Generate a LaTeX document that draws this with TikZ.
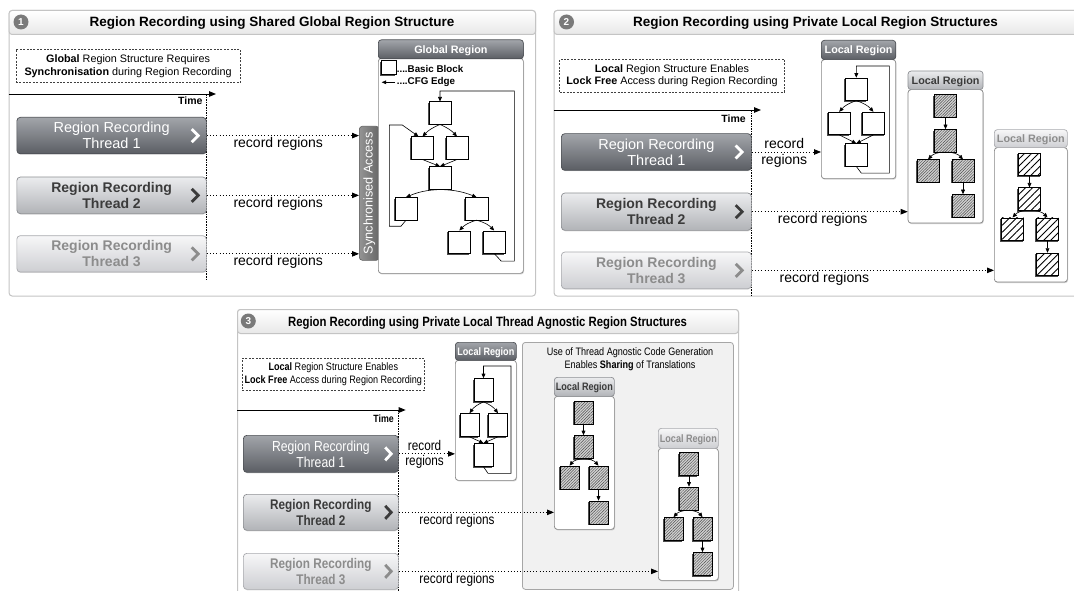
\documentclass[tikz,border=0pt]{standalone}
\usepackage{fontspec}
\setmainfont{Liberation Sans}
\usepackage{graphicx}
\usetikzlibrary{arrows.meta,shadows,patterns.meta}

\definecolor{pborder}{HTML}{C4C4C4}
\definecolor{dkTop}{HTML}{A2A5AA}
\definecolor{dkBot}{HTML}{5B5E64}
\definecolor{dkLine}{HTML}{4C4F54}
\definecolor{mdTop}{HTML}{EBECEE}
\definecolor{mdBot}{HTML}{B1B3B7}
\definecolor{mdLine}{HTML}{8D8F93}
\definecolor{ltTop}{HTML}{F7F7F8}
\definecolor{ltBot}{HTML}{CDCED2}
\definecolor{ltLine}{HTML}{A9AAAE}
\definecolor{mdText}{HTML}{3B3B3B}
\definecolor{ltText}{HTML}{8C8C8C}
\definecolor{shareBg}{HTML}{F1F1F1}

\newcommand\fs[2]{\fontsize{#1}{#2}\selectfont}
% horizontally condensed text for the third panel
\newcommand\cz[1]{\scalebox{0.84}[1]{#1}}

\begin{document}
\begin{tikzpicture}[x=1pt,y=-1pt,
  sz/.style 2 args={minimum width=#1pt,minimum height=#2pt},
  nw/.style={anchor=north west},
  panel/.style={nw,draw=pborder,fill=white,line width=1pt,rounded corners=3pt,inner sep=0pt},
  tbar/.style={nw,draw=pborder,line width=1pt,top color=white,bottom color=black!9,rounded corners=3pt,inner sep=0pt},
  ttl/.style={anchor=base,inner sep=0pt,font=\fs{13.5}{16}\bfseries},
  num/.style={circle,fill=black!52,text=white,minimum size=15pt,inner sep=0pt,font=\fs{10}{12}\bfseries},
  note/.style={nw,draw=black!75,line width=0.6pt,dash pattern=on 2pt off 1.4pt,align=center,inner sep=0pt,font=\fs{10.8}{12.7}},
  thr/.style={nw,rounded corners=3.5pt,line width=0.7pt,inner sep=0pt,align=center,
     drop shadow={opacity=0.25,shadow xshift=0.4pt,shadow yshift=-0.9pt}},
  thrA/.style={thr,top color=dkTop,bottom color=dkBot,draw=dkLine,text=white,font=\fs{14.5}{16}},
  thrB/.style={thr,top color=mdTop,bottom color=mdBot,draw=mdLine,text=mdText,font=\fs{14}{16}\bfseries},
  thrC/.style={thr,top color=ltTop,bottom color=ltBot,draw=ltLine,text=ltText,font=\fs{14}{16}\bfseries},
  chev/.style={line width=2.8pt,line join=miter,line cap=butt},
  axis/.style={line width=0.9pt,-{Triangle[length=7pt,width=5.5pt]}},
  tline/.style={line width=0.7pt,dash pattern=on 1.6pt off 1pt},
  tlbl/.style={anchor=base east,inner sep=0pt,font=\fs{10.5}{12}\bfseries},
  rec/.style={line width=0.8pt,dash pattern=on 1.1pt off 2.1pt,-{Triangle[length=7pt,width=5.5pt]}},
  lbl/.style={inner sep=1.5pt,font=\fs{14}{16}},
  rbody/.style={nw,draw=black!48,fill=white,line width=0.7pt,rounded corners=3pt,inner sep=0pt,
     drop shadow={opacity=0.35,shadow xshift=0.7pt,shadow yshift=-1.1pt}},
  rh/.style={nw,rounded corners=3pt,line width=0.7pt,inner sep=0pt,text height=7.9pt,text depth=0pt,font=\fs{10.8}{12}\bfseries},
  rhA/.style={rh,top color=dkTop,bottom color=dkBot,draw=dkLine,text=white},
  rhB/.style={rh,top color=mdTop,bottom color=mdBot,draw=mdLine,text=mdText},
  rhC/.style={rh,top color=ltTop,bottom color=ltBot,draw=ltLine,text=ltText},
  blk/.style={draw=black,line width=0.6pt,inner sep=0pt,minimum width=22.4pt,minimum height=22.4pt,
     general shadow={fill=black!70,shadow xshift=-1.2pt,shadow yshift=-1.3pt}},
  wb/.style={blk,fill=white},
  fh/.style={blk,preaction={fill=black!18},pattern={Lines[angle=45,distance=2pt,line width=0.45pt]},pattern color=black!70},
  wh/.style={blk,preaction={fill=white},pattern={Lines[angle=45,distance=5pt,line width=0.9pt]},pattern color=black},
  nar/.style={minimum width=19pt,minimum height=23pt},
  cfg/.style={line width=0.6pt,-{Triangle[length=4.5pt,width=3.8pt]}},
  lgd/.style={anchor=base west,inner sep=0pt,font=\fs{9.8}{12}\bfseries},
  sync/.style={nw,rounded corners=3pt,left color=black!42,right color=black!60,draw=black!62,line width=0.6pt,inner sep=0pt},
  share/.style={nw,draw=black!35,fill=shareBg,line width=0.8pt,rounded corners=3pt,inner sep=0pt},
]
\useasboundingbox (0,0) rectangle (1074,591);

% =============== Panel 1: shared global region ===============
\node[panel,sz={526.4}{285.5}] (pan1) at (8.6,10) {};
\node[tbar,sz={526.4}{24}] (tb1) at (8.6,10) {};
\node[num] (n1) at (21,22) {1};
\node[ttl] (tt1) at (272,26.5) {Region Recording using Shared Global Region Structure};
\node[note,sz={224.5}{33}] (nt1) at (15.5,49.3)
  {\textbf{Global} Region Structure Requires\\\textbf{Synchronisation} during Region Recording};

\coordinate (ax1a) at (8.6,94);
\coordinate (ax1b) at (216,94);
\draw[axis] (ax1a) -- (ax1b);
\coordinate (tv1a) at (206,94);
\coordinate (tv1b) at (206,279);
\draw[tline] (tv1a) -- (tv1b);
\node[tlbl] (tm1) at (202.7,105) {Time};

\node[thrA,sz={189.5}{36.5}] (a1) at (16.5,117) {Region Recording\\Thread 1};
\node[thrB,sz={189.5}{36.6}] (a2) at (16.5,176.7) {Region Recording\\Thread 2};
\node[thrC,sz={189.5}{36.4}] (a3) at (16.5,235.3) {Region Recording\\Thread 3};
\draw[chev,white] ([xshift=-15pt,yshift=6.5pt]a1.east) -- ([xshift=-8.5pt]a1.east) -- ([xshift=-15pt,yshift=-6.5pt]a1.east);
\draw[chev,mdText] ([xshift=-15pt,yshift=6.5pt]a2.east) -- ([xshift=-8.5pt]a2.east) -- ([xshift=-15pt,yshift=-6.5pt]a2.east);
\draw[chev,ltText] ([xshift=-15pt,yshift=6.5pt]a3.east) -- ([xshift=-8.5pt]a3.east) -- ([xshift=-15pt,yshift=-6.5pt]a3.east);

\node[sync,sz={20}{134}] (sy) at (359,126) {};
\node[rotate=90,text=white,inner sep=0pt,font=\fs{12.7}{14}] (syt) at (sy.center) {Synchronised Access};

\draw[rec] (a1.east) -- (a1.east -| sy.west) node[lbl,pos=.47,anchor=north] {record regions};
\draw[rec] (a2.east) -- (a2.east -| sy.west) node[lbl,pos=.47,anchor=north] {record regions};
\draw[rec] (a3.east) -- (a3.east -| sy.west) node[lbl,pos=.47,anchor=north] {record regions};

% global region box
\node[rbody,sz={145}{215}] (gr) at (378,58) {};
\node[rhA,sz={145}{19}] (grh) at (378,39.5) {Global Region};
\node[wb,sz={14.3}{13.6}] (lg1) at (388.8,67.5) {};
\node[lgd] (lt1) at (396.6,72.6) {....Basic Block};
\node[lgd] (lt2) at (396.6,85) {....CFG Edge};
\coordinate (lga) at (395,82.3);
\coordinate (lgb) at (381.7,82.3);
\draw[cfg] (lga) -- (lgb);

\node[wb] (g0) at (440,113) {};
\node[wb] (g1) at (422.5,148) {};
\node[wb] (g2) at (457,148) {};
\node[wb] (g3) at (440,178) {};
\node[wb] (g4) at (406,208.7) {};
\node[wb] (g5) at (476.6,208.7) {};
\node[wb] (g6) at (459.3,242) {};
\node[wb] (g7) at (494.2,242) {};
\draw[cfg] (g0.south) to[bend right=12] (g1.north);
\draw[cfg] (g0.south) to[bend left=12] (g2.north);
\draw[cfg] (g1.south) -- (g3.north);
\draw[cfg] (g2.south) -- (g3.north);
\draw[cfg] (g3.south) to[bend right=10] (g4.north);
\draw[cfg] (g3.south) to[bend left=10] (g5.north);
\draw[cfg] (g5.south) to[bend right=15] (g6.north);
\draw[cfg] (g5.south) to[bend left=15] (g7.north);
\coordinate (gk1) at (514.3,91);
\draw[cfg] (g7.south) -- ++(7,7.6) -| (gk1) -| (g0.north);
\coordinate (gk2) at (389.3,125);
\draw[cfg] (g4.south) -- ++(-5,6) -| (gk2) -- ++(13,0) -- ([xshift=-4pt]g1.north);

% =============== Panel 2: private local regions ===============
\node[panel,sz={523.4}{285.5}] (pan2) at (553.6,10) {};
\node[tbar,sz={523.4}{24}] (tb2) at (553.6,10) {};
\node[num] (n2) at (566.5,22) {2};
\node[ttl] (tt2) at (815.5,26.5) {Region Recording using Private Local Region Structures};
\node[note,sz={224.6}{33}] (nt2) at (559.4,59)
  {\textbf{Local} Region Structure Enables\\\textbf{Lock Free} Access during Region Recording};

\coordinate (ax2a) at (553.6,110);
\coordinate (ax2b) at (761,110);
\draw[axis] (ax2a) -- (ax2b);
\coordinate (tv2a) at (751,110);
\coordinate (tv2b) at (751,296);
\draw[tline] (tv2a) -- (tv2b);
\node[tlbl] (tm2) at (746,122.3) {Time};

\node[thrA,sz={190}{36.7}] (b1) at (561,133.3) {Region Recording\\Thread 1};
\node[thrB,sz={190}{37.3}] (b2) at (561,192.7) {Region Recording\\Thread 2};
\node[thrC,sz={190}{36.6}] (b3) at (561,251.7) {Region Recording\\Thread 3};
\draw[chev,white] ([xshift=-16pt,yshift=6.5pt]b1.east) -- ([xshift=-9.5pt]b1.east) -- ([xshift=-16pt,yshift=-6.5pt]b1.east);
\draw[chev,mdText] ([xshift=-16pt,yshift=6.5pt]b2.east) -- ([xshift=-9.5pt]b2.east) -- ([xshift=-16pt,yshift=-6.5pt]b2.east);
\draw[chev,ltText] ([xshift=-16pt,yshift=6.5pt]b3.east) -- ([xshift=-9.5pt]b3.east) -- ([xshift=-16pt,yshift=-6.5pt]b3.east);

% local region of thread 1
\node[rbody,sz={74.4}{119}] (lr1) at (821,59.3) {};
\node[rhA,sz={74.4}{19.3}] (lr1h) at (821,40) {Local Region};
\node[wb] (l0) at (856.3,89.2) {};
\node[wb] (l1) at (839.2,123.3) {};
\node[wb] (l2) at (873.5,123.3) {};
\node[wb] (l3) at (856.3,155) {};
\draw[cfg] (l0.south) to[bend right=15] (l1.north);
\draw[cfg] (l0.south) to[bend left=15] (l2.north);
\draw[cfg] (l1.south) -- (l3.north);
\draw[cfg] (l2.south) -- (l3.north);
\coordinate (lk1) at (889.3,66);
\draw[cfg] (l3.south) -- ++(5,6.6) -| (lk1) -| (l0.north);

% local region of thread 2
\node[rbody,sz={75}{133.4}] (lr2) at (907.7,89.3) {};
\node[rhB,sz={75}{18.6}] (lr2h) at (907.7,70.7) {Local Region};
\node[fh] (h0) at (945.5,105.7) {};
\node[fh] (h1) at (945.5,140.7) {};
\node[fh] (h2) at (928,171) {};
\node[fh] (h3) at (963,171) {};
\node[fh] (h4) at (963,205.7) {};
\draw[cfg] (h0) -- (h1);
\draw[cfg] (h1.south) to[bend right=25] (h2.north);
\draw[cfg] (h1.south) to[bend left=25] (h3.north);
\draw[cfg] (h3) -- (h4);

% local region of thread 3
\node[rbody,sz={73}{134.4}] (lr3) at (994,147.3) {};
\node[rhC,sz={73}{18}] (lr3h) at (994,129.3) {Local Region};
\node[wh] (w0) at (1029.5,164.3) {};
\node[wh] (w1) at (1029.5,199) {};
\node[wh] (w2) at (1012.5,229) {};
\node[wh] (w3) at (1047.5,229) {};
\node[wh] (w4) at (1047.5,264.3) {};
\draw[cfg] (w0) -- (w1);
\draw[cfg] (w1.south) to[bend right=25] (w2.north);
\draw[cfg] (w1.south) to[bend left=25] (w3.north);
\draw[cfg] (w3) -- (w4);

\draw[rec] (b1.east) -- (b1.east -| lr1.west)
  node[lbl,pos=.47,anchor=south,inner sep=2.5pt] {record}
  node[lbl,pos=.47,anchor=north] {regions};
\draw[rec] (b2.east) -- (b2.east -| lr2.west) node[lbl,pos=.455,anchor=north] {record regions};
\draw[rec] (b3.east) -- (b3.east -| lr3.west) node[lbl,pos=.30,anchor=north] {record regions};

% =============== Panel 3: thread agnostic local regions ===============
\node[panel,sz={501}{291}] (pan3) at (237,309) {};
\node[tbar,sz={501}{24}] (tb3) at (237,309) {};
\node[num] (n3) at (248.3,321) {3};
\node[ttl] (tt3) at (487.5,326) {\cz{Region Recording using Private Local Thread Agnostic Region Structures}};
\node[note,sz={182}{32}] (nt3) at (242,358)
  {\cz{\textbf{Local} Region Structure Enables}\\\cz{\textbf{Lock Free} Access during Region Recording}};

\coordinate (ax3a) at (237,410);
\coordinate (ax3b) at (405.7,410);
\draw[axis] (ax3a) -- (ax3b);
\coordinate (tv3a) at (398,410);
\coordinate (tv3b) at (398,592);
\draw[tline] (tv3a) -- (tv3b);
\node[tlbl] (tm3) at (394,422.7) {\cz{Time}};

\node[thrA,sz={155}{37}] (c1) at (243,435) {\cz{Region Recording}\\\cz{Thread 1}};
\node[thrB,sz={155}{36}] (c2) at (243,494) {\cz{Region Recording}\\\cz{Thread 2}};
\node[thrC,sz={155}{36}] (c3) at (243,553) {\cz{Region Recording}\\\cz{Thread 3}};
\draw[chev,white] ([xshift=-13.5pt,yshift=6.5pt]c1.east) -- ([xshift=-7.5pt]c1.east) -- ([xshift=-13.5pt,yshift=-6.5pt]c1.east);
\draw[chev,mdText] ([xshift=-13.5pt,yshift=6.5pt]c2.east) -- ([xshift=-7.5pt]c2.east) -- ([xshift=-13.5pt,yshift=-6.5pt]c2.east);
\draw[chev,ltText] ([xshift=-13.5pt,yshift=6.5pt]c3.east) -- ([xshift=-7.5pt]c3.east) -- ([xshift=-13.5pt,yshift=-6.5pt]c3.east);

% local region of thread 1
\node[rbody,sz={61}{120}] (mr) at (455,360) {};
\node[rhA,sz={61}{18}] (mrh) at (455,342) {\cz{Local Region}};
\node[wb,nar] (m0) at (483.5,390) {};
\node[wb,nar] (m1) at (469.5,425) {};
\node[wb,nar] (m2) at (498,425) {};
\node[wb,nar] (m3) at (483.5,455) {};
\draw[cfg] (m0.south) to[bend right=15] (m1.north);
\draw[cfg] (m0.south) to[bend left=15] (m2.north);
\draw[cfg] (m1.south) -- (m3.north);
\draw[cfg] (m2.south) -- (m3.north);
\coordinate (mk1) at (511,366);
\draw[cfg] (m3.south) -- ++(4.5,6.5) -| (mk1) -| (m0.north);

% shared translation area
\node[share,sz={211}{247}] (sh) at (522,342) {};
\node[anchor=base,inner sep=0pt,font=\fs{10.8}{12.7}] (sht1) at (630,355.5) {\cz{Use of Thread Agnostic Code Generation}};
\node[anchor=base,inner sep=0pt,font=\fs{10.8}{12.7}] (sht2) at (630,368) {\cz{Enables \textbf{Sharing} of Translations}};

% local region of thread 2
\node[rbody,sz={60}{133}] (nr) at (554,396) {};
\node[rhB,sz={60}{19}] (nrh) at (554,377) {\cz{Local Region}};
\node[fh,nar] (k0) at (583.5,412.5) {};
\node[fh,nar] (k1) at (583.5,447) {};
\node[fh,nar] (k2) at (569.5,477.5) {};
\node[fh,nar] (k3) at (598.5,477.5) {};
\node[fh,nar] (k4) at (598.5,512.5) {};
\draw[cfg] (k0) -- (k1);
\draw[cfg] (k1.south) to[bend right=25] (k2.north);
\draw[cfg] (k1.south) to[bend left=25] (k3.north);
\draw[cfg] (k3) -- (k4);

% local region of thread 3
\node[rbody,sz={60}{132}] (qr) at (658,448) {};
\node[rhC,sz={60}{20}] (qrh) at (658,428) {\cz{Local Region}};
\node[fh,nar] (q0) at (689,464) {};
\node[fh,nar] (q1) at (689,498.5) {};
\node[fh,nar] (q2) at (673.5,529) {};
\node[fh,nar] (q3) at (702.5,529) {};
\node[fh,nar] (q4) at (702.5,564) {};
\draw[cfg] (q0) -- (q1);
\draw[cfg] (q1.south) to[bend right=25] (q2.north);
\draw[cfg] (q1.south) to[bend left=25] (q3.north);
\draw[cfg] (q3) -- (q4);

\draw[rec] (c1.east) -- (c1.east -| mr.west)
  node[lbl,pos=.46,anchor=south,inner sep=2.5pt] {\cz{record}}
  node[lbl,pos=.46,anchor=north] {\cz{regions}};
\draw[rec] (c2.east) -- (c2.east -| nr.west) node[lbl,pos=.375,anchor=north] {\cz{record regions}};
\draw[rec] (c3.east) -- (c3.east -| qr.west) node[lbl,pos=.225,anchor=north] {\cz{record regions}};
\end{tikzpicture}
\end{document}
